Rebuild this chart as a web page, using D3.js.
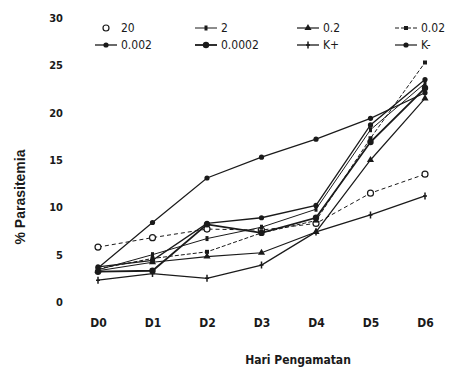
<!DOCTYPE html>
<html>
<head>
<meta charset="utf-8">
<script src="https://cdnjs.cloudflare.com/ajax/libs/d3/7.8.5/d3.min.js"></script>
<style>
  body { margin: 0; background: #fff; }
  svg { display: block; }
</style>
</head>
<body>
<div id="chart"></div>
<script>
var width = 452, height = 371;

var days = ["D0", "D1", "D2", "D3", "D4", "D5", "D6"];
var yTicks = [0, 5, 10, 15, 20, 25, 30];
var seriesNames = ["20", "2", "0.2", "0.02", "0.002", "0.0002", "K+", "K-"];

var s20     = [5.8, 6.8, 7.7, 7.6, 8.3, 11.5, 13.5];
var s2      = [3.4, 5.0, 6.7, 7.9, 9.8, 18.2, 23.1];
var s02     = [3.3, 4.2, 4.8, 5.2, 7.4, 15.0, 21.5];
var s002    = [3.5, 4.6, 5.3, 7.3, 8.6, 17.3, 25.3];
var s0002   = [3.7, 4.4, 8.3, 8.9, 10.2, 18.7, 23.5];
var s00002  = [3.2, 3.3, 8.2, 7.3, 8.9, 16.9, 22.6];
var sKplus  = [2.3, 3.0, 2.5, 3.9, 7.4, 9.2, 11.2];
var sKminus = [3.6, 8.4, 13.1, 15.3, 17.2, 19.4, 22.1];

var allSeries = [s20, s2, s02, s002, s0002, s00002, sKplus, sKminus];

// line style per series: dash, stroke width, marker type
var styles = [
    {dash: "4,3", w: 1, m: "open"},
    {dash: null, w: 1, m: "tick"},
    {dash: null, w: 1.2, m: "tri"},
    {dash: "4,2", w: 1, m: "sq"},
    {dash: null, w: 1.3, m: "dot"},
    {dash: null, w: 1.8, m: "bigdot"},
    {dash: null, w: 1.3, m: "plus"},
    {dash: null, w: 1.2, m: "dot"}
];

var narrow = "'DejaVu Sans Condensed', 'Liberation Sans Narrow', sans-serif";

var svg = d3.select("#chart")
    .append("svg")
    .attr("width", width)
    .attr("height", height);

var x = d3.scalePoint().domain(days).range([98, 425]);
var y = d3.scaleLinear().domain([0, 30]).range([302, 18]);

var ink = "#1a1a1a";

// y axis (labels only)
var yAxis = svg.append("g")
    .attr("transform", "translate(63,0)")
    .call(d3.axisLeft(y).tickValues(yTicks).tickSize(0).tickPadding(0));
yAxis.select(".domain").remove();
yAxis.selectAll("text")
    .attr("font-family", narrow)
    .attr("font-weight", "bold")
    .attr("font-size", 11)
    .attr("fill", ink);

// x axis (labels only)
var xAxis = svg.append("g")
    .attr("transform", "translate(0,318)")
    .call(d3.axisBottom(x).tickSize(0).tickPadding(0));
xAxis.select(".domain").remove();
xAxis.selectAll("text")
    .attr("font-family", narrow)
    .attr("font-weight", "bold")
    .attr("font-size", 12)
    .attr("fill", ink);

svg.append("text")
    .attr("x", 298)
    .attr("y", 364)
    .attr("text-anchor", "middle")
    .attr("font-family", narrow)
    .attr("font-weight", "bold")
    .attr("font-size", 12)
    .attr("fill", ink)
    .text("Hari Pengamatan");

svg.append("text")
    .attr("transform", "translate(25,197) rotate(-90)")
    .attr("text-anchor", "middle")
    .attr("font-family", "'Liberation Sans', sans-serif")
    .attr("font-weight", "bold")
    .attr("font-size", 14)
    .attr("fill", ink)
    .text("% Parasitemia");

function drawMarker(g, type, cx, cy) {
    if (type == "open") {
        g.append("circle").attr("cx", cx).attr("cy", cy).attr("r", 3)
            .attr("fill", "#fff").attr("stroke", ink).attr("stroke-width", 1.2);
    } else if (type == "dot") {
        g.append("circle").attr("cx", cx).attr("cy", cy).attr("r", 2.6).attr("fill", ink);
    } else if (type == "bigdot") {
        g.append("circle").attr("cx", cx).attr("cy", cy).attr("r", 3.2).attr("fill", ink);
    } else if (type == "sq") {
        g.append("rect").attr("x", cx - 2).attr("y", cy - 2).attr("width", 4).attr("height", 4).attr("fill", ink);
    } else if (type == "tri") {
        g.append("path").attr("d", d3.symbol(d3.symbolTriangle, 22)()).attr("transform", "translate(" + cx + "," + cy + ")").attr("fill", ink);
    } else if (type == "tick") {
        g.append("rect").attr("x", cx - 1.5).attr("y", cy - 2.5).attr("width", 3).attr("height", 5).attr("fill", ink);
    } else if (type == "plus") {
        g.append("path").attr("d", "M" + cx + "," + (cy - 3.5) + "V" + (cy + 3.5) + "M" + (cx - 2) + "," + cy + "H" + (cx + 2))
            .attr("stroke", ink).attr("stroke-width", 1.5);
    }
}

var line = d3.line()
    .x(function (d, i) { return x(days[i]); })
    .y(function (d) { return y(d); });

allSeries.forEach(function (vals, k) {
    var st = styles[k];
    var g = svg.append("g");
    g.append("path")
        .datum(vals)
        .attr("d", line)
        .attr("fill", "none")
        .attr("stroke", ink)
        .attr("stroke-width", st.w)
        .attr("stroke-dasharray", st.dash);
    vals.forEach(function (v, i) {
        drawMarker(g, st.m, x(days[i]), y(v));
    });
});

// legend
var legCols = [95, 195, 297, 395];
var legRows = [28, 45];
seriesNames.forEach(function (name, k) {
    var col = k < 4 ? k : k - 4;
    var row = k < 4 ? 0 : 1;
    var lx = legCols[col], ly = legRows[row];
    var st = styles[k];
    var g = svg.append("g");
    if (k != 0) {
        g.append("line")
            .attr("x1", lx).attr("x2", lx + 22)
            .attr("y1", ly).attr("y2", ly)
            .attr("stroke", ink)
            .attr("stroke-width", st.w)
            .attr("stroke-dasharray", st.dash);
    }
    drawMarker(g, st.m, lx + 11, ly);
    g.append("text")
        .attr("x", lx + 26)
        .attr("y", ly + 4)
        .attr("font-family", narrow)
        .attr("font-size", 12)
        .attr("fill", ink)
        .text(name);
});
</script>
</body>
</html>
